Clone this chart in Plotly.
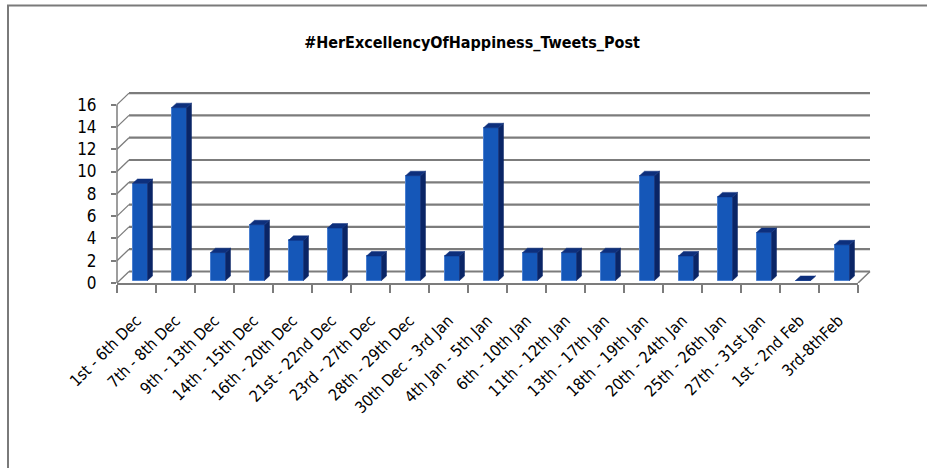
import plotly.graph_objects as go

# ---------------- data ----------------
categories = ["1st - 6th Dec", "7th - 8th Dec", "9th - 13th Dec", "14th - 15th Dec",
              "16th - 20th Dec", "21st - 22nd Dec", "23rd - 27th Dec", "28th - 29th Dec",
              "30th Dec - 3rd Jan", "4th Jan - 5th Jan", "6th - 10th Jan", "11th - 12th Jan",
              "13th - 17th Jan", "18th - 19th Jan", "20th - 24th Jan", "25th - 26th Jan",
              "27th - 31st Jan", "1st - 2nd Feb", "3rd-8thFeb"]
values = [8.7, 15.5, 2.5, 5.0, 3.6, 4.7, 2.2, 9.4, 2.2, 13.7,
          2.5, 2.5, 2.5, 9.4, 2.2, 7.5, 4.3, 0, 3.2]
y_ticks = [0, 2, 4, 6, 8, 10, 12, 14, 16]
title_text = "#HerExcellencyOfHappiness_Tweets_Post"

# ---------------- geometry / style ----------------
W, H = 927, 468
L, R = 117, 858          # plot area x pixels
T, B = 88, 283           # plot area y pixels
PX_PER_UNIT = 11.15
BASE_PX = 280.5          # pixel of value 0 on bar plane
Y_LO = (BASE_PX - B) / PX_PER_UNIT
Y_HI = (BASE_PX - T) / PX_PER_UNIT
N = len(categories)
PX_PER_CAT = (R - L) / N
FRONT_SHIFT = (BASE_PX - B) / PX_PER_UNIT      # front axis plane offset (value units)
BACK_SHIFT = (BASE_PX - 271.5) / PX_PER_UNIT   # back wall offset (value units)
WALL_DX = 12 / (R - L)                          # back wall x offset (paper)

BAR_W = 15 / PX_PER_CAT
BAR_OFF = -4 / PX_PER_CAT
DEPTH_X = 5 / PX_PER_CAT
DEPTH_Y = 4.5 / PX_PER_UNIT

FONT = "Liberation Sans Narrow, DejaVu Sans Condensed, Arial Narrow, Liberation Sans, sans-serif"
GRID = "#7c7c7c"
FRONT_C = "#1557B8"
SIDE_C = "#0A2566"
TOP_C = "#0D2F7C"


def paper_x(px):
    return (px - L) / (R - L)


def paper_y(py):
    return (B - py) / (B - T)


fig = go.Figure()

# side faces and top faces of 3D bars
side_x, side_y, top_x, top_y = [], [], [], []
for i, v in enumerate(values):
    xl = i + BAR_OFF
    xr = xl + BAR_W
    side_x += [xr, xr + DEPTH_X, xr + DEPTH_X, xr, xr, None]
    side_y += [0, DEPTH_Y, v + DEPTH_Y, v, 0, None]
    top_x += [xl, xr, xr + DEPTH_X, xl + DEPTH_X, xl, None]
    top_y += [v, v, v + DEPTH_Y, v + DEPTH_Y, v, None]

fig.add_trace(go.Bar(
    x=list(range(N)), y=values, width=BAR_W, offset=BAR_OFF,
    marker=dict(color=FRONT_C, line=dict(color="#4A7FD0", width=1)),
    hoverinfo="x+y", showlegend=False))
fig.add_trace(go.Scatter(x=side_x, y=side_y, mode="lines", fill="toself",
                         fillcolor=SIDE_C, line=dict(width=0.5, color=SIDE_C),
                         hoverinfo="skip", showlegend=False))
fig.add_trace(go.Scatter(x=top_x, y=top_y, mode="lines", fill="toself",
                         fillcolor=TOP_C, line=dict(width=0.5, color=TOP_C),
                         hoverinfo="skip", showlegend=False))

shapes = []
# back wall gridlines + diagonal connectors to front axis
for v in y_ticks:
    shapes.append(dict(type="line", xref="paper", yref="y", layer="below",
                       x0=WALL_DX, x1=1 + WALL_DX, y0=v + BACK_SHIFT, y1=v + BACK_SHIFT,
                       line=dict(color=GRID, width=2.2)))
    shapes.append(dict(type="line", xref="paper", yref="y", layer="below",
                       x0=0, x1=WALL_DX, y0=v + FRONT_SHIFT, y1=v + BACK_SHIFT,
                       line=dict(color=GRID, width=1.3)))
# front vertical axis line
shapes.append(dict(type="line", xref="paper", yref="y",
                   x0=0, x1=0, y0=y_ticks[0] + FRONT_SHIFT, y1=y_ticks[-1] + FRONT_SHIFT,
                   line=dict(color=GRID, width=1.5)))
# floor right diagonal
shapes.append(dict(type="line", xref="paper", yref="y",
                   x0=1, x1=1 + WALL_DX, y0=FRONT_SHIFT, y1=BACK_SHIFT,
                   line=dict(color=GRID, width=1.5)))
# outer frame (left and top)
shapes.append(dict(type="line", xref="paper", yref="paper",
                   x0=paper_x(8), x1=paper_x(8), y0=paper_y(5.5), y1=paper_y(470),
                   line=dict(color="#7a7a7a", width=2)))
shapes.append(dict(type="line", xref="paper", yref="paper",
                   x0=paper_x(7), x1=paper_x(930), y0=paper_y(5.5), y1=paper_y(5.5),
                   line=dict(color="#7a7a7a", width=2)))

fig.update_layout(
    width=W, height=H,
    margin=dict(l=L, r=W - R, t=T, b=H - B, autoexpand=False),
    paper_bgcolor="white", plot_bgcolor="white",
    shapes=shapes,
    title=dict(text=title_text, x=472 / W, xref="container", xanchor="center",
               y=1 - 42 / H, yref="container", yanchor="middle",
               font=dict(family=FONT, size=16, color="black", weight="bold")),
    xaxis=dict(range=[-0.5, N - 0.5], tickmode="array", tickvals=list(range(N)),
               ticktext=categories, tickangle=-45, ticks="",
               showgrid=False, zeroline=False,
               showline=True, linecolor=GRID, linewidth=2,
               minor=dict(tickmode="array", tickvals=[i - 0.5 for i in range(N + 1)],
                          ticks="outside", ticklen=8, tickcolor=GRID, tickwidth=1.5,
                          showgrid=False),
               ticklabelstandoff=20,
               tickfont=dict(family=FONT, size=16, color="black")),
    yaxis=dict(range=[Y_LO, Y_HI], tickmode="array",
               tickvals=[v + FRONT_SHIFT for v in y_ticks],
               ticktext=[str(v) for v in y_ticks],
               ticks="outside", ticklen=5, tickcolor=GRID, tickwidth=1.5,
               showgrid=False, zeroline=False, showline=False,
               ticklabelstandoff=11,
               tickfont=dict(family=FONT, size=17, color="black")),
    bargap=0,
)

fig.write_html("out.html", config={"displayModeBar": False},
               post_script="document.body.style.margin='0px';")
